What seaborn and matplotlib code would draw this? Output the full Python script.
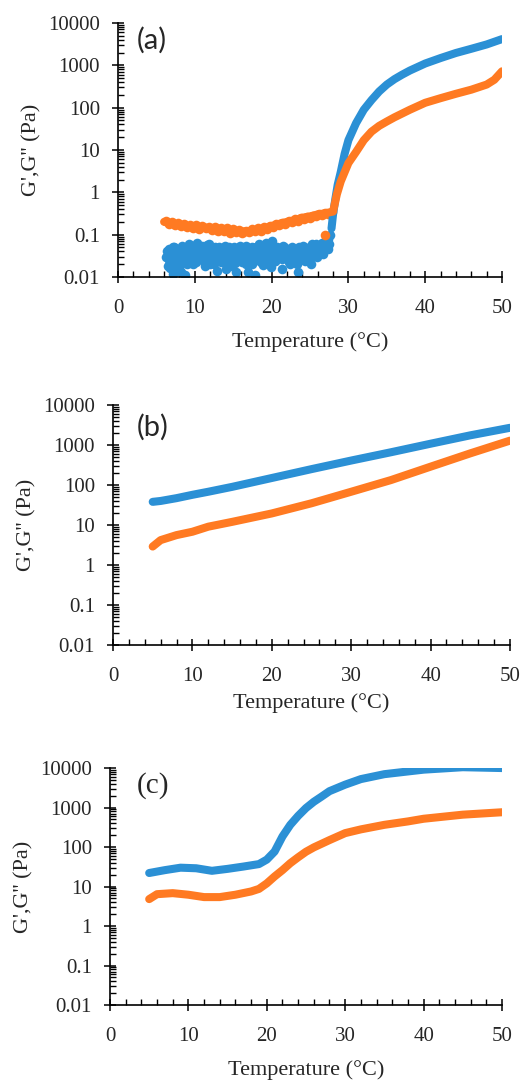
import numpy as np
import pandas as pd
import matplotlib
matplotlib.use("Agg")
import matplotlib.pyplot as plt
import seaborn as sns
from matplotlib.ticker import MultipleLocator, LogLocator, FixedLocator, NullFormatter

BLUE = "#2B90D5"
ORANGE = "#FF7A22"

# ---------------- panel (a) ----------------
# G' scatter in the noisy low-temperature region
a_blue_noise_y1 = [0.03, 0.018, 0.045, 0.022, 0.012, 0.05, 0.028, 0.015, 0.04, 0.019,
                   0.055, 0.03, 0.011, 0.042, 0.025, 0.06, 0.035, 0.02, 0.048, 0.03,
                   0.062, 0.04, 0.026, 0.055, 0.033, 0.018, 0.05, 0.038, 0.06, 0.028,
                   0.045, 0.02, 0.035, 0.014, 0.05, 0.03, 0.042, 0.022, 0.055, 0.032,
                   0.025, 0.045, 0.018, 0.038, 0.05, 0.013, 0.04, 0.028, 0.055, 0.022,
                   0.035, 0.046, 0.02, 0.013, 0.04, 0.03, 0.052, 0.024, 0.011, 0.038,
                   0.06, 0.03, 0.045, 0.019, 0.035, 0.065, 0.026, 0.042, 0.017, 0.07,
                   0.033, 0.024, 0.05, 0.03, 0.04, 0.015, 0.055, 0.028, 0.036, 0.046,
                   0.022, 0.032, 0.05, 0.026, 0.04, 0.02, 0.013, 0.045, 0.03, 0.055,
                   0.024, 0.038, 0.048, 0.028, 0.02, 0.06, 0.035, 0.045, 0.03, 0.055,
                   0.04, 0.065, 0.035, 0.05, 0.07, 0.045, 0.06]
a_blue_noise_y2 = [0.04, 0.025, 0.016, 0.035, 0.05, 0.02, 0.038, 0.045, 0.026, 0.013,
                   0.036, 0.048, 0.03, 0.02, 0.05, 0.038, 0.028, 0.055, 0.042, 0.022,
                   0.035, 0.05, 0.03, 0.045, 0.024, 0.04, 0.058, 0.032, 0.02, 0.042,
                   0.03, 0.05, 0.026, 0.04, 0.034, 0.022, 0.046, 0.03, 0.015, 0.04,
                   0.05, 0.028, 0.036, 0.044, 0.021, 0.032, 0.048, 0.038, 0.026, 0.03,
                   0.042, 0.055, 0.035, 0.027, 0.045, 0.02, 0.032, 0.04, 0.05, 0.028,
                   0.038, 0.022, 0.046, 0.034, 0.04, 0.027, 0.052, 0.036, 0.03, 0.044,
                   0.024, 0.038, 0.048, 0.032, 0.04, 0.026, 0.05, 0.035, 0.029, 0.042,
                   0.02, 0.036, 0.046, 0.03, 0.04, 0.024, 0.05, 0.036, 0.042, 0.028,
                   0.034, 0.048, 0.04, 0.03, 0.045, 0.052, 0.038, 0.06, 0.044, 0.05,
                   0.04, 0.058, 0.048, 0.066, 0.055, 0.08, 0.1]
a_blue_noise_x1 = np.round(6.3 + 0.2 * np.arange(len(a_blue_noise_y1)), 1)
a_blue_noise_x2 = np.round(6.4 + 0.2 * np.arange(len(a_blue_noise_y2)), 1)

# G' rise above the gel point
a_blue_T = [27.8, 28.0, 28.3, 28.6, 29.0, 29.5, 30, 31, 32, 33, 34, 35, 36, 37, 38,
            40, 42, 44, 46, 48, 50]
a_blue_G = [0.14, 0.3, 0.7, 1.5, 3, 8, 17, 43, 89, 150, 240, 350, 470, 600, 750,
            1100, 1480, 1950, 2450, 3100, 4150]

# G''
a_orange_T = [6, 7, 8, 9, 10, 11, 12, 13, 14, 15, 16, 17, 18, 19, 20, 21, 22, 23, 24,
              25, 26, 27, 28, 28.5, 29, 30, 31, 32, 33, 34, 35, 36, 38, 40, 42, 44,
              46, 48, 49, 50]
a_orange_G = [0.2, 0.18, 0.17, 0.16, 0.15, 0.15, 0.14, 0.14, 0.13, 0.125, 0.12, 0.12,
              0.13, 0.14, 0.16, 0.18, 0.2, 0.22, 0.25, 0.27, 0.3, 0.32, 0.35, 0.9, 1.8,
              4.9, 9, 17, 27, 37, 47, 59, 89, 130, 167, 212, 265, 350, 455, 720]
# G'' scatter around the flat part
a_orange_noise_y = [0.21, 0.18, 0.2, 0.165, 0.185, 0.16, 0.18, 0.15, 0.17, 0.14,
                    0.165, 0.135, 0.16, 0.14, 0.155, 0.13, 0.15, 0.125, 0.145, 0.12,
                    0.145, 0.11, 0.135, 0.115, 0.13, 0.11, 0.125, 0.115, 0.135, 0.12,
                    0.14, 0.125, 0.15, 0.135, 0.16, 0.15, 0.175, 0.165, 0.19, 0.18,
                    0.21, 0.2, 0.23, 0.215, 0.245, 0.235, 0.26, 0.25, 0.28, 0.27,
                    0.3, 0.29, 0.32, 0.31, 0.34]
a_orange_noise_x = np.round(6.2 + 0.4 * np.arange(len(a_orange_noise_y)), 1)
a_orange_out_T = [27.0]
a_orange_out_G = [0.1]

# ---------------- panel (b) ----------------
b_T = [5, 6, 8, 10, 12, 15, 20, 25, 30, 35, 40, 45, 50]
b_blue_G = [38, 40, 47, 57, 68, 90, 150, 250, 410, 660, 1080, 1750, 2700]
b_orange_G = [2.9, 4.2, 5.6, 6.8, 9.1, 12, 19.5, 35, 68, 133, 288, 620, 1290]

# ---------------- panel (c) ----------------
c_blue_T = [5, 7, 9, 11, 13, 15, 17, 19, 20, 21, 22, 23, 24, 25, 26, 27, 28, 30, 32,
            35, 38, 40, 45, 50]
c_blue_G = [22, 26, 30, 29, 25, 28, 32, 37, 48, 77, 185, 365, 615, 970, 1400, 1900,
            2600, 3800, 5250, 7000, 8200, 9100, 10500, 10000]
c_orange_T = [5, 6, 8, 10, 12, 14, 16, 18, 19, 20, 21, 22, 23, 24, 25, 26, 28, 30, 32,
              35, 38, 40, 45, 50]
c_orange_G = [4.8, 6.4, 6.8, 6.2, 5.4, 5.4, 6.2, 7.5, 8.7, 12, 18, 26, 39, 55, 76, 98,
              150, 225, 280, 365, 445, 520, 660, 760]

sns.set_style("ticks")
plt.rcParams["font.family"] = ["Liberation Serif", "DejaVu Serif"]

fig = plt.figure(figsize=(5.28, 10.81), dpi=100)
axes_pos = [
    [0.2235, 0.7438, 0.7273, 0.2350],
    [0.2140, 0.4033, 0.7519, 0.2220],
    [0.2083, 0.0703, 0.7424, 0.2192],
]
axes = [fig.add_axes(p) for p in axes_pos]

LW = 5.8


def line(ax, T, G, color):
    df = pd.DataFrame({"T": T, "G": G})
    sns.lineplot(data=df, x="T", y="G", ax=ax, color=color, linewidth=LW,
                 sort=False, estimator=None, solid_capstyle="round",
                 solid_joinstyle="round")


def dots(ax, T, G, color, s=48):
    df = pd.DataFrame({"T": T, "G": G})
    sns.scatterplot(data=df, x="T", y="G", ax=ax, color=color, s=s,
                    linewidth=0, alpha=1)


ax = axes[0]
dots(ax, a_blue_noise_x1, a_blue_noise_y1, BLUE)
dots(ax, a_blue_noise_x2, a_blue_noise_y2, BLUE)
line(ax, a_blue_T, a_blue_G, BLUE)
line(ax, a_orange_T, a_orange_G, ORANGE)
dots(ax, a_orange_noise_x, a_orange_noise_y, ORANGE)
dots(ax, a_orange_out_T, a_orange_out_G, ORANGE)

ax = axes[1]
line(ax, b_T, b_blue_G, BLUE)
line(ax, b_T, b_orange_G, ORANGE)

ax = axes[2]
line(ax, c_blue_T, c_blue_G, BLUE)
line(ax, c_orange_T, c_orange_G, ORANGE)

panel_labels = ["(a)", "(b)", "(c)"]
label_fonts = [["Lato", "DejaVu Sans"], ["Lato", "DejaVu Sans"],
               ["Liberation Serif", "DejaVu Serif"]]
label_xy = [(0.05, 0.985), (0.06, 0.965), (0.068, 0.985)]
xlabel_pads = [10, 5, 10]
yticks = [0.01, 0.1, 1, 10, 100, 1000, 10000]
yticklabels = ["0.01", "0.1", "1", "10", "100", "1000", "10000"]

for i, ax in enumerate(axes):
    ax.set_yscale("log")
    ax.set_xlim(0, 50)
    ax.set_ylim(0.01, 10000)
    ax.xaxis.set_major_locator(MultipleLocator(10))
    ax.xaxis.set_minor_locator(MultipleLocator(2))
    ax.yaxis.set_major_locator(FixedLocator(yticks))
    ax.set_yticklabels(yticklabels)
    ax.yaxis.set_minor_locator(LogLocator(base=10, subs=np.arange(2, 10), numticks=20))
    ax.yaxis.set_minor_formatter(NullFormatter())
    ax.tick_params(axis="both", which="major", direction="inout", length=8,
                   width=1.1, color="black", labelsize=15)
    ax.tick_params(axis="x", which="major", pad=12)
    ax.tick_params(axis="y", which="major", pad=9)
    ax.tick_params(axis="both", which="minor", direction="in", length=4,
                   width=1.0, color="black")
    for s in ["top", "right"]:
        ax.spines[s].set_visible(False)
    for s in ["left", "bottom"]:
        ax.spines[s].set_color("black")
        ax.spines[s].set_linewidth(1.2)
    ax.set_xlabel("Temperature (°C)", fontsize=16, labelpad=xlabel_pads[i])
    ax.set_ylabel("G',G'' (Pa)", fontsize=16, labelpad=5)
    ax.text(label_xy[i][0], label_xy[i][1], panel_labels[i], transform=ax.transAxes,
            ha="left", va="top", fontsize=21, family=label_fonts[i])

fig.savefig("out.png", dpi=100, facecolor="white")
